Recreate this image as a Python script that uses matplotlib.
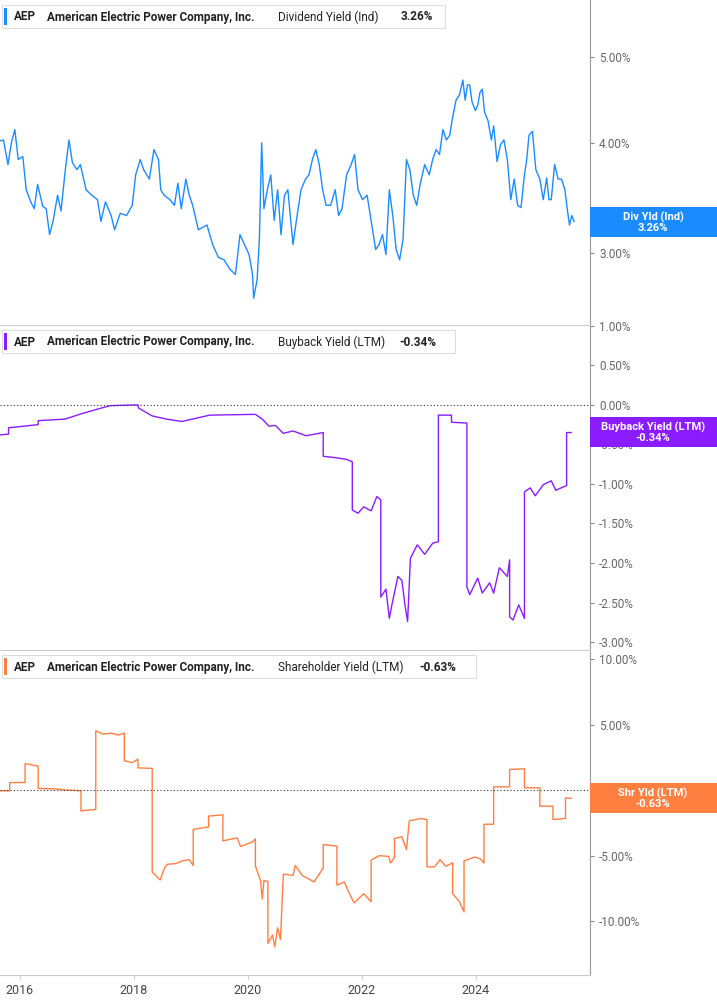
import matplotlib
matplotlib.use("Agg")
import matplotlib.pyplot as plt
from matplotlib.patches import Rectangle
from matplotlib.ticker import FixedLocator, NullLocator

plt.rcParams["font.family"] = "Roboto"

# ---------------- data ----------------
div_years = [2015.65,2015.71,2015.79,2015.85,2015.91,2015.97,2016.05,2016.11,2016.19,2016.25,2016.31,2016.40,2016.46,2016.52,2016.58,2016.66,2016.72,2016.80,2016.86,2016.92,2017.00,2017.06,2017.16,2017.26,2017.36,2017.42,2017.50,2017.60,2017.66,2017.76,2017.87,2017.97,2018.03,2018.11,2018.17,2018.27,2018.35,2018.43,2018.47,2018.53,2018.63,2018.71,2018.77,2018.83,2018.91,2018.97,2019.03,2019.13,2019.28,2019.38,2019.48,2019.58,2019.68,2019.78,2019.86,2019.94,2020.02,2020.08,2020.10,2020.16,2020.20,2020.24,2020.28,2020.34,2020.40,2020.46,2020.52,2020.58,2020.64,2020.70,2020.79,2020.85,2020.93,2021.01,2021.07,2021.13,2021.19,2021.25,2021.31,2021.37,2021.45,2021.53,2021.59,2021.65,2021.73,2021.81,2021.87,2021.93,2022.01,2022.09,2022.16,2022.24,2022.30,2022.36,2022.42,2022.48,2022.54,2022.60,2022.66,2022.72,2022.78,2022.84,2022.90,2022.96,2023.02,2023.10,2023.18,2023.24,2023.30,2023.36,2023.42,2023.48,2023.54,2023.58,2023.65,2023.71,2023.77,2023.81,2023.85,2023.89,2023.93,2023.99,2024.03,2024.07,2024.11,2024.15,2024.21,2024.27,2024.31,2024.37,2024.43,2024.49,2024.55,2024.61,2024.67,2024.73,2024.79,2024.85,2024.89,2024.93,2024.99,2025.05,2025.12,2025.18,2025.24,2025.28,2025.32,2025.38,2025.44,2025.50,2025.56,2025.60,2025.64,2025.68,2025.72]
div_vals = [4.02,4.03,3.78,4.00,4.14,3.83,3.86,3.54,3.43,3.37,3.59,3.39,3.37,3.15,3.26,3.49,3.35,3.75,4.03,3.80,3.73,3.78,3.54,3.49,3.45,3.26,3.43,3.31,3.19,3.33,3.31,3.40,3.68,3.83,3.73,3.64,3.93,3.83,3.54,3.49,3.45,3.40,3.60,3.37,3.64,3.49,3.40,3.19,3.23,3.07,2.97,2.95,2.88,2.84,3.15,3.07,2.99,2.84,2.67,2.80,3.11,4.00,3.37,3.54,3.68,3.27,3.54,3.15,3.49,3.54,3.07,3.27,3.54,3.64,3.68,3.83,3.93,3.78,3.54,3.40,3.40,3.54,3.31,3.37,3.68,3.78,3.88,3.54,3.45,3.49,3.27,3.03,3.07,3.15,2.99,3.54,3.31,3.03,2.95,3.11,3.83,3.73,3.49,3.40,3.59,3.78,3.68,3.83,3.93,3.88,4.14,4.03,4.08,4.24,4.47,4.53,4.71,4.47,4.65,4.65,4.45,4.35,4.41,4.56,4.60,4.33,4.24,4.03,4.18,3.81,3.98,4.03,3.83,3.45,3.64,3.40,3.38,3.68,3.83,4.08,4.12,3.73,3.64,3.45,3.65,3.45,3.45,3.78,3.64,3.64,3.54,3.37,3.23,3.31,3.26]

bb_years = [2015.65,2015.80,2015.80,2016.32,2016.32,2016.79,2017.09,2017.33,2017.58,2018.07,2018.08,2018.32,2018.57,2018.84,2019.33,2020.13,2020.25,2020.37,2020.48,2020.62,2020.79,2021.02,2021.32,2021.32,2021.56,2021.73,2021.83,2021.83,2021.93,2022.03,2022.16,2022.26,2022.33,2022.33,2022.42,2022.48,2022.53,2022.63,2022.70,2022.75,2022.80,2022.85,2022.97,2023.10,2023.24,2023.34,2023.34,2023.57,2023.57,2023.84,2023.84,2023.89,2024.03,2024.11,2024.24,2024.31,2024.41,2024.55,2024.59,2024.59,2024.65,2024.75,2024.85,2024.85,2024.95,2025.04,2025.18,2025.32,2025.40,2025.59,2025.59,2025.67]
bb_vals = [-0.38,-0.37,-0.29,-0.25,-0.20,-0.18,-0.11,-0.06,-0.01,0.00,-0.04,-0.14,-0.18,-0.21,-0.13,-0.12,-0.18,-0.27,-0.26,-0.36,-0.33,-0.39,-0.35,-0.65,-0.67,-0.69,-0.72,-1.33,-1.37,-1.29,-1.34,-1.16,-1.20,-2.43,-2.33,-2.70,-2.51,-2.17,-2.22,-2.51,-2.74,-1.94,-1.77,-1.89,-1.75,-1.73,-0.13,-0.13,-0.22,-0.23,-2.30,-2.40,-2.19,-2.38,-2.25,-2.38,-2.06,-2.17,-1.96,-2.68,-2.72,-2.53,-2.70,-1.10,-1.05,-1.15,-1.01,-0.96,-1.08,-1.02,-0.35,-0.35]

sh_years = [2015.65,2015.82,2015.82,2016.09,2016.09,2016.32,2016.32,2016.59,2016.86,2017.07,2017.07,2017.33,2017.33,2017.46,2017.60,2017.73,2017.83,2017.83,2017.97,2018.07,2018.07,2018.32,2018.32,2018.40,2018.46,2018.54,2018.59,2018.74,2018.84,2018.97,2019.04,2019.04,2019.31,2019.31,2019.56,2019.56,2019.81,2019.87,2020.08,2020.13,2020.13,2020.22,2020.25,2020.28,2020.35,2020.35,2020.43,2020.47,2020.52,2020.57,2020.62,2020.79,2020.83,2020.95,2021.16,2021.32,2021.32,2021.56,2021.56,2021.69,2021.76,2021.86,2022.03,2022.16,2022.16,2022.30,2022.47,2022.50,2022.57,2022.57,2022.70,2022.78,2022.83,2023.04,2023.14,2023.14,2023.27,2023.37,2023.47,2023.59,2023.59,2023.71,2023.79,2023.79,2023.98,2024.08,2024.14,2024.14,2024.31,2024.31,2024.59,2024.59,2024.85,2024.85,2025.12,2025.12,2025.35,2025.35,2025.57,2025.57,2025.67]
sh_vals = [-0.05,-0.05,0.58,0.58,2.03,1.83,0.13,0.10,0.00,-0.05,-1.58,-1.47,4.53,4.27,4.35,4.20,4.35,2.24,2.10,2.36,1.70,1.66,-6.23,-6.60,-6.85,-5.90,-5.65,-5.60,-5.40,-5.30,-5.75,-3.00,-2.80,-1.98,-1.88,-3.87,-3.64,-4.30,-3.95,-3.71,-5.78,-6.90,-8.30,-6.90,-6.96,-11.70,-11.05,-11.95,-10.50,-11.40,-6.41,-6.50,-5.75,-6.50,-7.00,-5.93,-4.15,-4.27,-7.25,-7.00,-7.70,-8.60,-7.90,-8.50,-5.34,-5.00,-5.05,-5.56,-5.15,-3.69,-3.56,-4.53,-2.34,-2.16,-2.25,-5.85,-5.85,-5.30,-5.80,-5.55,-7.90,-8.50,-9.29,-5.40,-5.10,-5.25,-5.56,-2.60,-2.60,0.25,0.25,1.58,1.63,0.18,0.18,-1.22,-1.22,-2.24,-2.16,-0.59,-0.63]

years_ticks = [2016, 2018, 2020, 2022, 2024]

BLUE = "#1a8cff"
PURPLE = "#8b1cff"
ORANGE = "#ff7f40"
GREY = "#666666"

W, H = 717, 1005
fig = plt.figure(figsize=(W / 100, H / 100), dpi=100)

def px_axes(top, bottom):
    return fig.add_axes([0, 1 - bottom / H, 590 / W, (bottom - top) / H])

xlim = (2015.65, 2026.0)

def style(ax):
    ax.set_xlim(*xlim)
    for s in ["top", "left", "bottom"]:
        ax.spines[s].set_visible(False)
    ax.spines["right"].set_color("#999999")
    ax.yaxis.tick_right()
    ax.tick_params(axis="y", colors="#888888", labelcolor=GREY, labelsize=8.5, length=3)
    ax.tick_params(axis="x", bottom=False, labelbottom=False)

ax1 = px_axes(0, 325)
ax2 = px_axes(325, 650)
ax3 = px_axes(650, 975)
for a in (ax1, ax2, ax3):
    style(a)

ax1.plot(div_years, div_vals, color=BLUE, lw=1.0)
ax1.set_yscale("log")
ax1.set_ylim(2.49, 5.80)
ax1.yaxis.set_major_locator(FixedLocator([3, 4, 5]))
ax1.yaxis.set_minor_locator(NullLocator())
ax1.set_yticklabels(["3.00%", "4.00%", "5.00%"])

ax2.plot(bb_years, bb_vals, color=PURPLE, lw=1.0)
ax2.set_ylim(-3.10, 1.01)
bt = [1.0, 0.5, 0.0, -0.5, -1.0, -1.5, -2.0, -2.5, -3.0]
ax2.set_yticks(bt)
ax2.set_yticklabels([f"{v:.2f}%" for v in bt])
ax2.axhline(0, color="#333333", lw=0.8, ls=(0, (1, 2)))

ax3.plot(sh_years, sh_vals, color=ORANGE, lw=1.0)
ax3.set_ylim(-14.1, 10.69)
st = [10, 5, 0, -5, -10]
ax3.set_yticks(st)
ax3.set_yticklabels([f"{v:.2f}%" for v in st])
ax3.axhline(0, color="#333333", lw=0.8, ls=(0, (1, 2)))
ax3.spines["bottom"].set_visible(True)
ax3.spines["bottom"].set_color("#cccccc")
ax3.set_xticks(years_ticks)
ax3.tick_params(axis="x", bottom=True, labelbottom=True, colors="#cccccc",
                labelcolor="#444444", labelsize=9, length=3)

for y in (325, 650):
    fig.add_artist(plt.Line2D([0, 590 / W], [1 - y / H] * 2, color="#cccccc", lw=0.8))

def fy(y):
    return 1 - y / H

def header(top, color, metric, value, mx, vx, width):
    fig.add_artist(Rectangle((2 / W, fy(top + 23)), width / W, 23 / H, facecolor="white",
                             edgecolor="#dddddd", lw=0.8))
    fig.add_artist(Rectangle((4 / W, fy(top + 20)), 3 / W, 17 / H, facecolor=color, edgecolor="none"))
    yc = fy(top + 12)
    fig.text(14 / W, yc, "AEP", fontsize=8.5, fontweight="bold", va="center", color="#222222")
    fig.text(47 / W, yc, "American Electric Power Company, Inc.", fontsize=8.5, fontweight="bold",
             va="center", color="#222222")
    fig.text(mx / W, yc, metric, fontsize=8.5, va="center", color="#222222")
    fig.text(vx / W, yc, value, fontsize=8.5, fontweight="bold", va="center", color="#222222")

header(5, BLUE, "Dividend Yield (Ind)", "3.26%", 278, 401, 443)
header(330, PURPLE, "Buyback Yield (LTM)", "-0.34%", 278, 399, 453)
header(655, ORANGE, "Shareholder Yield (LTM)", "-0.63%", 278, 419, 474)

def tag(top, color, text):
    fig.add_artist(Rectangle((590 / W, fy(top + 30)), 127 / W, 30 / H, facecolor=color, edgecolor="none"))
    fig.text(653 / W, fy(top + 15), text, fontsize=8, fontweight="bold", color="white",
             ha="center", va="center", linespacing=1.0)

tag(207, BLUE, "Div Yld (Ind)\n3.26%")
tag(417, PURPLE, "Buyback Yield (LTM)\n-0.34%")
tag(783, ORANGE, "Shr Yld (LTM)\n-0.63%")

fig.savefig("out.png", dpi=100)
